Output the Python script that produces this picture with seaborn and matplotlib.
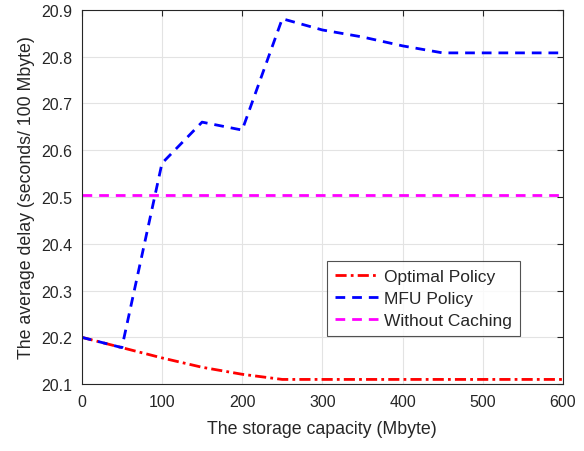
import pandas as pd
import numpy as np
import matplotlib
matplotlib.use("Agg")
import matplotlib.pyplot as plt
import seaborn as sns

# Data
capacity = [0, 50, 100, 150, 200, 250, 300, 350, 400, 450, 500, 550, 600]
optimal = [20.200, 20.178, 20.156, 20.136, 20.121, 20.110, 20.110, 20.110,
           20.110, 20.110, 20.110, 20.110, 20.110]
mfu = [20.200, 20.178, 20.572, 20.660, 20.643, 20.881, 20.857, 20.842,
       20.823, 20.808, 20.808, 20.808, 20.808]
no_cache = [20.505] * len(capacity)
yticks = [20.1, 20.2, 20.3, 20.4, 20.5, 20.6, 20.7, 20.8, 20.9]

sns.set_style("white")
plt.rcParams["font.family"] = ["Liberation Sans", "DejaVu Sans"]

fig = plt.figure(figsize=(5.84, 4.52), dpi=100)
ax = fig.add_axes([0.140, 0.148, 0.824, 0.828])

sns.lineplot(x=capacity, y=optimal, ax=ax, color="#ff0000", lw=2,
             label="Optimal Policy")
ax.lines[-1].set_linestyle((0, (4, 1.5, 1, 1.5)))
sns.lineplot(x=capacity, y=mfu, ax=ax, color="#0000ff", lw=2,
             label="MFU Policy")
ax.lines[-1].set_linestyle((0, (3.5, 2.5)))
sns.lineplot(x=capacity, y=no_cache, ax=ax, color="#ff00ff", lw=2,
             label="Without Caching")
ax.lines[-1].set_linestyle((0, (3.5, 2.5)))

ax.set_xlim(0, 600)
ax.set_ylim(20.1, 20.9)
ax.set_xticks(np.arange(0, 601, 100))
ax.set_yticks(yticks)
ax.set_yticklabels([f"{v:.1f}" for v in yticks])
ax.grid(True, color="#e3e3e3", lw=0.8)
ax.tick_params(direction="in", top=True, right=True, length=4, width=0.8,
               colors="#262626", labelsize=11.5, labelcolor="#262626", pad=7)
for s in ax.spines.values():
    s.set_color("#262626")
    s.set_linewidth(0.8)

ax.set_xlabel("The storage capacity (Mbyte)", fontsize=12.8, color="#262626",
              labelpad=8)
ax.set_ylabel("The average delay (seconds/ 100 Mbyte)", fontsize=12.8,
              color="#262626", labelpad=4)

leg = ax.legend(loc="lower right", bbox_to_anchor=(0.911, 0.128),
                borderaxespad=0, fontsize=12.5, frameon=True, fancybox=False,
                handlelength=2.5, handletextpad=0.35, labelspacing=0.4,
                borderpad=0.45)
leg.get_frame().set_edgecolor("#262626")
leg.get_frame().set_linewidth(0.8)

fig.savefig("out.png", dpi=100)
